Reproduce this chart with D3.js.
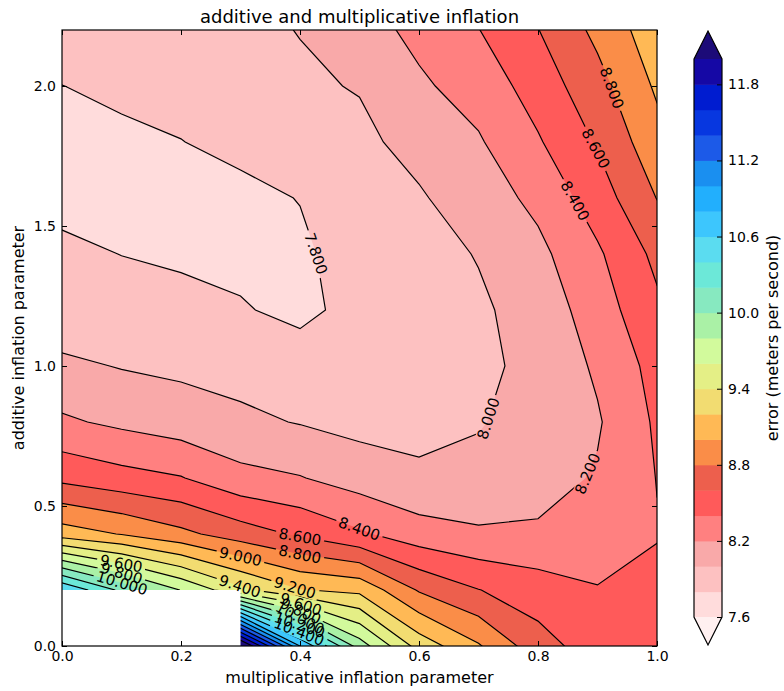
<!DOCTYPE html>
<html>
<head>
<meta charset="utf-8">
<script src="https://cdn.jsdelivr.net/npm/d3@7"></script>
<style>
  body { margin: 0; background: #fff; }
  svg { font-family: "DejaVu Sans", sans-serif; }
</style>
</head>
<body>
<div id="chart-container"></div>
<script>
// grid of the experiment
const xValues = [0.0, 0.1, 0.2, 0.3, 0.4, 0.5, 0.6, 0.7, 0.8, 0.9, 1.0];   // multiplicative inflation
const yValues = [0.0, 0.2, 0.4, 0.6, 0.8, 1.0, 1.2, 1.4, 1.6, 1.8, 2.0, 2.2]; // additive inflation

// error (m/s), one row per additive value, null = run missing
const errorRows = [
  [null, null, null, 12.3, 10.8, 9.90, 9.32, 9.02, 8.68, 8.50, 8.52],
  [10.59, 10.15, 9.79, 9.45, 9.21, 9.15, 8.78, 8.605, 8.50, 8.41, 8.45],
  [9.10, 8.99, 8.85, 8.70, 8.57, 8.43, 8.29, 8.23, 8.23, 8.30, 8.39],
  [8.55, 8.47, 8.41, 8.26, 8.21, 8.11, 8.03, 8.04, 8.12, 8.22, 8.405],
  [8.23, 8.16, 8.10, 8.04, 7.99, 7.94, 7.95, 7.99, 8.06, 8.18, 8.43],
  [8.04, 7.99, 7.96, 7.93, 7.86, 7.87, 7.91, 7.96, 8.05, 8.23, 8.47],
  [7.87, 7.86, 7.84, 7.81, 7.77, 7.84, 7.91, 7.97, 8.08, 8.30, 8.56],
  [7.83, 7.798, 7.78, 7.77, 7.77, 7.88, 7.93, 8.01, 8.15, 8.37, 8.65],
  [7.76, 7.75, 7.76, 7.76, 7.805, 7.92, 7.98, 8.10, 8.25, 8.50, 8.805],
  [7.74, 7.78, 7.797, 7.84, 7.90, 7.96, 8.06, 8.18, 8.38, 8.62, 8.93],
  [7.799, 7.82, 7.85, 7.90, 7.975, 8.01, 8.17, 8.28, 8.49, 8.73, 9.03],
  [7.86, 7.88, 7.90, 7.96, 8.005, 8.12, 8.25, 8.395, 8.595, 8.85, 9.12]
];

// contour levels 7.6 .. 12.0
const levels = [7.6, 7.8, 8.0, 8.2, 8.4, 8.6, 8.8, 9.0, 9.2, 9.4, 9.6, 9.8,
                10.0, 10.2, 10.4, 10.6, 10.8, 11.0, 11.2, 11.4, 11.6, 11.8, 12.0];
// fill for the band starting at each level (last one = above 12.0)
const levelColors = ['#ffdcdc', '#fdc1c1', '#f9a9a9', '#ff8080', '#ff5a5a', '#ed5f4d',
                     '#fa8d48', '#ffb955', '#f2dc71', '#e4ef86', '#d2fa9c', '#aaf1a6',
                     '#87e9c0', '#6ce8d8', '#5bdcf0', '#3dc6fd', '#22affd', '#1a8ff0',
                     '#1c5ae8', '#0737e0', '#001cd0', '#1508a5', '#1c0b78'];
const underColor = '#fff0f0';

const xTicks = [0.0, 0.2, 0.4, 0.6, 0.8, 1.0];
const yTicks = [0.0, 0.5, 1.0, 1.5, 2.0];
const cbarTicks = [7.6, 8.2, 8.8, 9.4, 10.0, 10.6, 11.2, 11.8];

// where the inline labels sit: [level, x, y]
const labelSpots = [
  [7.8, 0.425, 1.40], [8.0, 0.735, 0.80], [8.2, 0.90, 0.60],
  [8.4, 0.862, 1.59], [8.6, 0.90, 1.78], [8.8, 0.92, 1.99],
  [8.4, 0.50, 0.42], [8.6, 0.40, 0.39], [8.8, 0.40, 0.33],
  [9.0, 0.30, 0.32], [9.4, 0.30, 0.22], [9.2, 0.39, 0.20],
  [9.6, 0.10, 0.30], [9.8, 0.10, 0.26], [10.0, 0.10, 0.22],
  [9.6, 0.40, 0.14], [9.8, 0.40, 0.12], [10.0, 0.40, 0.10],
  [10.2, 0.40, 0.08], [10.4, 0.40, 0.06]
];

const W = 784, H = 691;
const margin = { top: 30, right: 127, bottom: 45, left: 62 };
const plotW = W - margin.left - margin.right;
const plotH = H - margin.top - margin.bottom;

const svg = d3.select('#chart-container').append('svg')
  .attr('width', W).attr('height', H);

const x = d3.scaleLinear().domain([0, 1]).range([margin.left, margin.left + plotW]);
const y = d3.scaleLinear().domain([0, 2.2]).range([margin.top + plotH, margin.top]);

// marching squares needs numbers everywhere; missing nodes borrow the row above
// and the cells touching them are painted white afterwards
const nx = xValues.length, ny = yValues.length;
const flat = [];
errorRows.forEach((row, j) => row.forEach((v, i) => flat.push(v == null ? errorRows[j + 1][i] : v)));

const contours = d3.contours().size([nx, ny]).thresholds(levels)(flat);

const dxg = xValues[1] - xValues[0], dyg = yValues[1] - yValues[0];
const gx = c => x(xValues[0] + (c - 0.5) * dxg);
const gy = c => y(yValues[0] + (c - 0.5) * dyg);
const proj = d3.geoTransform({ point(px, py) { this.stream.point(gx(px), gy(py)); } });
const path = d3.geoPath(proj);

const defs = svg.append('defs');
defs.append('clipPath').attr('id', 'plot-clip')
  .append('rect').attr('x', margin.left).attr('y', margin.top).attr('width', plotW).attr('height', plotH);

const plot = svg.append('g').attr('clip-path', 'url(#plot-clip)');

// filled bands
plot.append('rect')
  .attr('x', margin.left).attr('y', margin.top).attr('width', plotW).attr('height', plotH)
  .attr('fill', underColor);
plot.selectAll('path.band')
  .data(contours)
  .join('path')
  .attr('class', 'band')
  .attr('d', path)
  .attr('fill', (d, k) => levelColors[k]);

// inline labels: snap each spot onto its contour and follow the line direction
const labelFont = 15;
const labels = [];
labelSpots.forEach(([lev, lx, ly]) => {
  const k = levels.findIndex(l => Math.abs(l - lev) < 1e-6);
  const ax = x(lx), ay = y(ly);
  let best = null;
  contours[k].coordinates.forEach(poly => poly.forEach(ring => {
    for (let s = 0; s < ring.length - 1; s++) {
      const x1 = gx(ring[s][0]), y1 = gy(ring[s][1]);
      const x2 = gx(ring[s + 1][0]), y2 = gy(ring[s + 1][1]);
      const ddx = x2 - x1, ddy = y2 - y1;
      const len2 = ddx * ddx + ddy * ddy;
      if (len2 === 0) continue;
      let t = ((ax - x1) * ddx + (ay - y1) * ddy) / len2;
      t = Math.max(0, Math.min(1, t));
      const px = x1 + t * ddx, py = y1 + t * ddy;
      const dist = (px - ax) ** 2 + (py - ay) ** 2;
      if (!best || dist < best.dist) {
        let ang = Math.atan2(ddy, ddx) * 180 / Math.PI;
        if (ang > 90) ang -= 180;
        if (ang <= -90) ang += 180;
        best = { dist, px, py, ang };
      }
    }
  }));
  if (best) labels.push({ text: lev.toFixed(3), x: best.px, y: best.py, ang: best.ang });
});

const labelG = svg.append('g').attr('clip-path', 'url(#plot-clip)');
const labelText = labelG.selectAll('text')
  .data(labels)
  .join('text')
  .attr('transform', d => `translate(${d.x},${d.y}) rotate(${d.ang})`)
  .attr('text-anchor', 'middle')
  .attr('dy', '0.36em')
  .attr('font-size', labelFont)
  .attr('fill', '#000')
  .text(d => d.text);
labelText.each(function(d) { d.w = this.getComputedTextLength(); });

// gaps in the lines behind the labels
const mask = defs.append('mask').attr('id', 'gaps')
  .attr('maskUnits', 'userSpaceOnUse').attr('x', 0).attr('y', 0).attr('width', W).attr('height', H);
mask.append('rect').attr('width', W).attr('height', H).attr('fill', '#fff');
mask.selectAll('rect.gap')
  .data(labels)
  .join('rect')
  .attr('class', 'gap')
  .attr('transform', d => `translate(${d.x},${d.y}) rotate(${d.ang})`)
  .attr('x', d => -d.w / 2 - 3).attr('y', -labelFont * 0.45)
  .attr('width', d => d.w + 6).attr('height', labelFont * 0.9)
  .attr('fill', '#000');

// contour lines
plot.append('g')
  .attr('mask', 'url(#gaps)')
  .selectAll('path')
  .data(contours)
  .join('path')
  .attr('d', path)
  .attr('fill', 'none')
  .attr('stroke', '#000')
  .attr('stroke-width', 1.2);

// blank out cells that touch a missing run
const holes = d3.path();
for (let j = 0; j < ny - 1; j++) {
  for (let i = 0; i < nx - 1; i++) {
    const corners = [errorRows[j][i], errorRows[j][i + 1], errorRows[j + 1][i], errorRows[j + 1][i + 1]];
    if (corners.some(v => v == null)) {
      holes.rect(x(xValues[i]), y(yValues[j + 1]), x(xValues[i + 1]) - x(xValues[i]), y(yValues[j]) - y(yValues[j + 1]));
    }
  }
}
plot.append('path').attr('d', holes.toString()).attr('fill', '#fff');

labelG.raise();

// axes, ticks pointing inward on all four sides
function styleAxis(g) {
  g.select('.domain').remove();
  g.selectAll('.tick line').attr('stroke', '#000');
  g.selectAll('.tick text').attr('fill', '#000');
  g.attr('font-family', '"DejaVu Sans", sans-serif').attr('font-size', 14);
}
svg.append('g').attr('transform', `translate(0,${margin.top + plotH})`)
  .call(d3.axisBottom(x).tickValues(xTicks).tickFormat(d3.format('.1f')).tickSize(-5).tickPadding(5))
  .call(styleAxis);
svg.append('g').attr('transform', `translate(0,${margin.top})`)
  .call(d3.axisTop(x).tickValues(xTicks).tickFormat('').tickSize(-5))
  .call(styleAxis);
svg.append('g').attr('transform', `translate(${margin.left},0)`)
  .call(d3.axisLeft(y).tickValues(yTicks).tickFormat(d3.format('.1f')).tickSize(-5).tickPadding(6))
  .call(styleAxis);
svg.append('g').attr('transform', `translate(${margin.left + plotW},0)`)
  .call(d3.axisRight(y).tickValues(yTicks).tickFormat('').tickSize(-5))
  .call(styleAxis);

svg.append('rect')
  .attr('x', margin.left).attr('y', margin.top).attr('width', plotW).attr('height', plotH)
  .attr('fill', 'none').attr('stroke', '#000').attr('stroke-width', 1.2);

// titles
svg.append('text')
  .attr('x', margin.left + plotW / 2).attr('y', 23)
  .attr('text-anchor', 'middle').attr('font-size', 18)
  .text('additive and multiplicative inflation');
svg.append('text')
  .attr('x', margin.left + plotW / 2).attr('y', 683)
  .attr('text-anchor', 'middle').attr('font-size', 16)
  .text('multiplicative inflation parameter');
svg.append('text')
  .attr('transform', `translate(24,${margin.top + plotH / 2}) rotate(-90)`)
  .attr('text-anchor', 'middle').attr('font-size', 16)
  .text('additive inflation parameter');

// colorbar with triangular extensions
const cbarX = 694, cbarW = 28, ext = 28;
const cbarTop = margin.top + 1 + ext, cbarBottom = margin.top + plotH - 1 - ext;
const cy = d3.scaleLinear().domain([levels[0], levels[levels.length - 1]]).range([cbarBottom, cbarTop]);
const cbar = svg.append('g');
cbar.selectAll('rect')
  .data(levels.slice(0, -1))
  .join('rect')
  .attr('x', cbarX).attr('width', cbarW)
  .attr('y', (d, k) => cy(levels[k + 1]))
  .attr('height', (d, k) => cy(levels[k]) - cy(levels[k + 1]) + 0.5)
  .attr('fill', (d, k) => levelColors[k]);
cbar.append('path')
  .attr('d', `M${cbarX},${cbarTop}L${cbarX + cbarW / 2},${cbarTop - ext}L${cbarX + cbarW},${cbarTop}Z`)
  .attr('fill', levelColors[levelColors.length - 1]);
cbar.append('path')
  .attr('d', `M${cbarX},${cbarBottom}L${cbarX + cbarW / 2},${cbarBottom + ext}L${cbarX + cbarW},${cbarBottom}Z`)
  .attr('fill', underColor);
cbar.append('path')
  .attr('d', `M${cbarX},${cbarTop}L${cbarX + cbarW / 2},${cbarTop - ext}L${cbarX + cbarW},${cbarTop}` +
             `L${cbarX + cbarW},${cbarBottom}L${cbarX + cbarW / 2},${cbarBottom + ext}L${cbarX},${cbarBottom}Z`)
  .attr('fill', 'none').attr('stroke', '#000').attr('stroke-width', 1.2);
svg.append('g').attr('transform', `translate(${cbarX + cbarW},0)`)
  .call(d3.axisRight(cy).tickValues(cbarTicks).tickFormat(d3.format('.1f')).tickSize(-5).tickPadding(6))
  .call(styleAxis);
svg.append('text')
  .attr('transform', `translate(778,${margin.top + plotH / 2}) rotate(-90)`)
  .attr('text-anchor', 'middle').attr('font-size', 16)
  .text('error (meters per second)');
</script>
</body>
</html>
